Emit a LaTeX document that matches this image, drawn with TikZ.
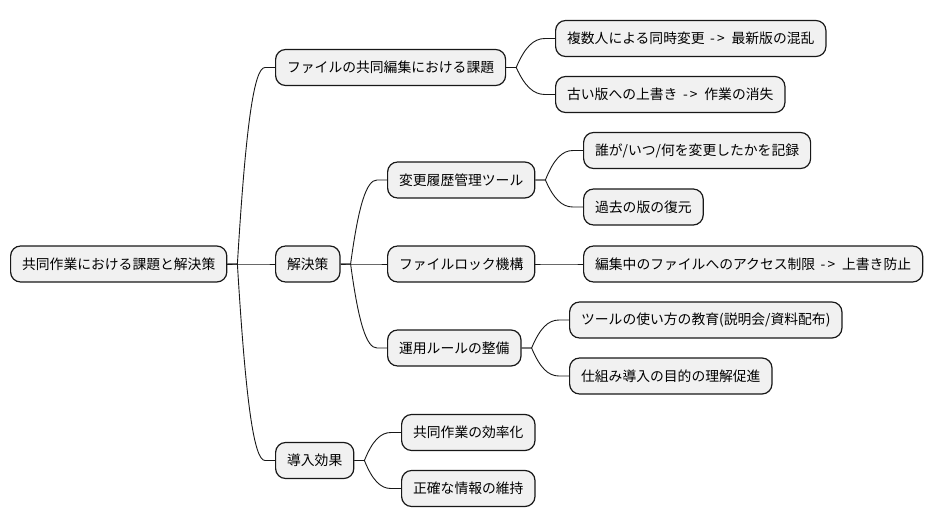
\documentclass[tikz,border=0pt]{standalone}
\usepackage{fontspec}
\setmainfont{Noto Sans CJK JP}
\usetikzlibrary{calc}
\definecolor{boxfill}{HTML}{F1F1F1}
\definecolor{boxline}{HTML}{181818}
\newcommand{\yields}{\hspace{0.4em}-\kern0.15em>\hspace{0.5em}}
\newcommand{\branch}[2]{%
  \draw[link] let \p1=(#1.east), \p2=(#2.west) in
    (\p1) -- (\x1+10pt,\y1)
    .. controls ({\x1+10pt+0.3*(\x2-\x1-20pt)},{\y1+0.7*(\y2-\y1)})
    and ({\x1+10pt+0.6*(\x2-\x1-20pt)},\y2) .. (\x2-10pt,\y2) -- (\p2);}
\begin{document}
\begin{tikzpicture}[x=1pt,y=-1pt,
    topic/.style={draw=boxline, line width=1.2pt, fill=boxfill, rounded corners=10pt,
      anchor=west, minimum height=36pt, inner xsep=11.5pt,
      font=\fontsize{13.8}{16}\selectfont},
    link/.style={draw=boxline, line width=0.9pt}]
  \useasboundingbox (0,0) rectangle (934,527);

  \node[topic] (root) at (10,264) {共同作業における課題と解決策};

  \node[topic] (issue) at (275,67.5) {ファイルの共同編集における課題};
  \node[topic] (sol) at (275,264) {解決策};
  \node[topic] (effect) at (275,460.5) {導入効果};

  \node[topic] (issueA) at (555,38.5) {複数人による同時変更\yields 最新版の混乱};
  \node[topic] (issueB) at (555,94.5) {古い版への上書き\yields 作業の消失};

  \node[topic] (hist) at (387,180) {変更履歴管理ツール};
  \node[topic] (lock) at (387,264) {ファイルロック機構};
  \node[topic] (rule) at (387,348) {運用ルールの整備};

  \node[topic] (histA) at (583,150.5) {誰が/いつ/何を変更したかを記録};
  \node[topic] (histB) at (583,207) {過去の版の復元};
  \node[topic] (lockA) at (583,264) {編集中のファイルへのアクセス制限\yields 上書き防止};
  \node[topic] (ruleA) at (569,320) {ツールの使い方の教育(説明会/資料配布)};
  \node[topic] (ruleB) at (569,376) {仕組み導入の目的の理解促進};

  \node[topic] (effA) at (401,432.5) {共同作業の効率化};
  \node[topic] (effB) at (401,488.5) {正確な情報の維持};

  \branch{root}{issue}
  \branch{root}{sol}
  \branch{root}{effect}
  \branch{issue}{issueA}
  \branch{issue}{issueB}
  \branch{sol}{hist}
  \branch{sol}{lock}
  \branch{sol}{rule}
  \branch{hist}{histA}
  \branch{hist}{histB}
  \branch{lock}{lockA}
  \branch{rule}{ruleA}
  \branch{rule}{ruleB}
  \branch{effect}{effA}
  \branch{effect}{effB}
\end{tikzpicture}
\end{document}
